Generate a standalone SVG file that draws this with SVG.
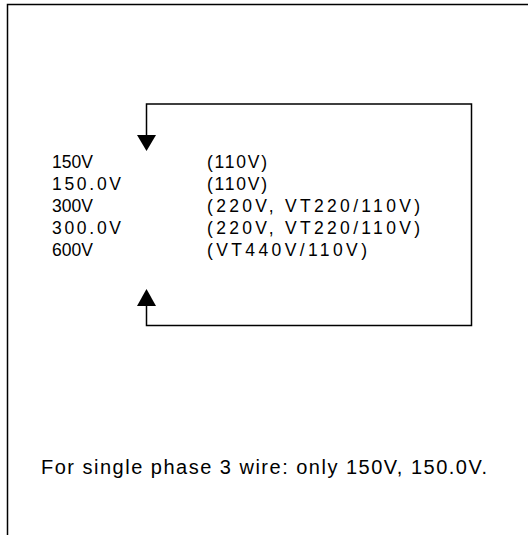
<svg xmlns="http://www.w3.org/2000/svg" width="528" height="535" viewBox="0 0 528 535">
  <defs>
    <style>
      .t { font-family: "Liberation Sans", Arial, sans-serif; font-size: 17.5px; fill: #000; }
      .n { font-family: "Liberation Sans", Arial, sans-serif; font-size: 20px; fill: #000; }
      .frame { fill: none; stroke: #000; stroke-width: 1.5; }
      .ln { fill: none; stroke: #000; stroke-width: 1.5; }
    </style>
  </defs>
  <rect width="528" height="535" fill="#fff"/>
  <g id="frame">
    <path class="frame" d="M7.5,535 V4.5 H528"/>
  </g>
  <g id="connectors">
    <path class="ln" d="M146.5,138 V104 H471.5 V325.5 H146.5 V305"/>
    <polygon points="137,135 156,135 146.5,151" fill="#000"/>
    <polygon points="137,306 156,306 146.5,289" fill="#000"/>
  </g>
  <g id="ranges">
    <text class="t" x="52" y="168">150V</text>
    <text class="t" x="52" y="190" textLength="69" lengthAdjust="spacing">150.0V</text>
    <text class="t" x="52" y="212">300V</text>
    <text class="t" x="52" y="234" textLength="69" lengthAdjust="spacing">300.0V</text>
    <text class="t" x="52" y="256">600V</text>
    <text class="t" x="207" y="168" textLength="60" lengthAdjust="spacing">(110V)</text>
    <text class="t" x="207" y="190" textLength="60" lengthAdjust="spacing">(110V)</text>
    <text class="t" x="207" y="212" textLength="213" lengthAdjust="spacing">(220V, VT220/110V)</text>
    <text class="t" x="207" y="234" textLength="213" lengthAdjust="spacing">(220V, VT220/110V)</text>
    <text class="t" x="207" y="256" textLength="160" lengthAdjust="spacing">(VT440V/110V)</text>
  </g>
  <g id="note">
    <text class="n" x="41" y="474" textLength="446" lengthAdjust="spacing">For single phase 3 wire: only 150V, 150.0V.</text>
  </g>
</svg>
